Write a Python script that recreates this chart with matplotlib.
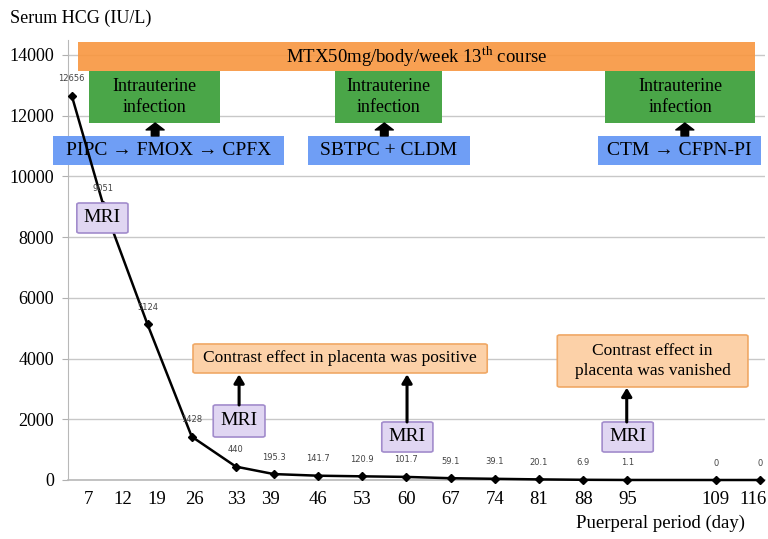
import matplotlib
matplotlib.use("Agg")
import matplotlib.pyplot as plt
from matplotlib.patches import Rectangle, FancyBboxPatch

plt.rcParams["mathtext.fontset"] = "custom"
plt.rcParams["mathtext.rm"] = "Liberation Serif"

# データ
days = [7, 12, 19, 26, 33, 39, 46, 53, 60, 67, 74, 81, 88, 95, 109, 116]
hcg = [12656, 9051, 5124, 1428, 440, 195.3, 141.7, 120.9, 101.7, 59.1,
       39.1, 20.1, 6.9, 1.1, 0, 0]
hcg_labels = ["12656", "9051", "5124", "1428", "440", "195.3", "141.7",
              "120.9", "101.7", "59.1", "39.1", "20.1", "6.9", "1.1", "0", "0"]
y_ticks = [0, 2000, 4000, 6000, 8000, 10000, 12000, 14000]
# 元図の目盛ラベルは左側でずれている (px)
label_shift = [17, 19, 9, 3, 1, -3, 0, 0, 0, 0, 0, 0, 0, 0, 0, -7]

# 注釈 (x0, x1, y0, y1, text)
mtx_bar = (8.0, 115.2, 13470, 14430, "MTX50mg/body/week 13$^{\\mathrm{th}}$ course")
infection_boxes = [(9.7, 30.5), (48.7, 65.6), (91.5, 115.2)]
infection_y = (11760, 13470)
antibiotic_boxes = [(4.0, 40.6, "PIPC → FMOX → CPFX"),
                    (44.4, 70.1, "SBTPC + CLDM"),
                    (90.3, 116.2, "CTM → CFPN-PI")]
antibiotic_y = (10376, 11332)
fat_arrow_x = [20.2, 56.5, 104.1]
mri_boxes = [(7.8, 15.9, 8136, 9124),
             (29.4, 37.6, 1416, 2471),
             (56.1, 64.2, 922, 1911),
             (91.0, 99.1, 922, 1911)]
contrast_boxes = [(26.2, 72.8, 3525, 4480, "Contrast effect in placenta was positive"),
                  (83.9, 114.1, 3064, 4777, "Contrast effect in\nplacenta was vanished")]
thin_arrows = [(33.5, 2471, 3480), (60.1, 1911, 3480), (94.9, 1911, 3040)]

SERIF = ["Liberation Serif", "DejaVu Serif"]
PX = 72 / 100  # px -> pt

fig = plt.figure(figsize=(7.68, 5.39), dpi=100)
ax = fig.add_axes([68 / 768, 1 - 480 / 539, (765 - 68) / 768, 440 / 539])
ax.set_xlim(6.4, 116.8)
ax.set_ylim(0, 14493)

ax.set_yticks(y_ticks)
ax.set_yticklabels([str(v) for v in y_ticks], fontfamily=SERIF, fontsize=13)
ax.set_xticks(days)
ax.set_xticklabels([])
for d, dx in zip(days, label_shift):
    ax.annotate(str(d), (d, 0), xytext=(dx * PX, -11 * PX), textcoords="offset points",
                ha="center", va="top", fontfamily=SERIF, fontsize=13.5,
                annotation_clip=False)
ax.tick_params(axis="y", length=4, color="#b0b0b0", pad=6)
ax.tick_params(axis="x", length=0)
ax.grid(axis="y", color="#c8c8c8", linewidth=1.0)
ax.set_axisbelow(True)
for s in ["top", "right"]:
    ax.spines[s].set_visible(False)
ax.spines["left"].set_color("#b8b8b8")
ax.spines["bottom"].set_color("#b8b8b8")
ax.spines["bottom"].set_linewidth(1.2)

# 折れ線
ax.plot(days, hcg, color="black", linewidth=1.8, marker="D", markersize=4.5,
        zorder=5, clip_on=False)
for d, v, lab in zip(days, hcg, hcg_labels):
    ax.annotate(lab, (d, v), xytext=(0, 9), textcoords="offset points",
                ha="center", va="bottom", fontsize=6, color="#444444", zorder=6)

# MTX バー
x0, x1, y0, y1, txt = mtx_bar
ax.add_patch(Rectangle((x0, y0), x1 - x0, y1 - y0, facecolor="#f8963f",
                       alpha=0.9, edgecolor="none", zorder=3, clip_on=False))
ax.text((x0 + x1) / 2, (y0 + y1) / 2, txt, ha="center", va="center",
        fontfamily=SERIF, fontsize=13.5, zorder=4)

# 子宮内感染
for x0, x1 in infection_boxes:
    y0, y1 = infection_y
    ax.add_patch(Rectangle((x0, y0), x1 - x0, y1 - y0, facecolor="#4aa648",
                           edgecolor="none", zorder=3, clip_on=False))
    ax.text((x0 + x1) / 2, (y0 + y1) / 2, "Intrauterine\ninfection",
            ha="center", va="center", fontfamily=SERIF, fontsize=13,
            linespacing=1.35, zorder=4)

# 抗菌薬
for x0, x1, txt in antibiotic_boxes:
    y0, y1 = antibiotic_y
    ax.add_patch(Rectangle((x0, y0), x1 - x0, y1 - y0, facecolor="#6f9ef5",
                           edgecolor="none", zorder=3, clip_on=False))
    ax.text((x0 + x1) / 2, (y0 + y1) / 2, txt, ha="center", va="center",
            fontfamily=SERIF, fontsize=14, zorder=4)

for x in fat_arrow_x:
    ax.annotate("", xy=(x, infection_y[0]), xytext=(x, antibiotic_y[1]),
                arrowprops=dict(arrowstyle="simple,head_length=0.5,head_width=1.3,tail_width=0.55",
                                color="black", shrinkA=0, shrinkB=0), zorder=4)

# MRI
for x0, x1, y0, y1 in mri_boxes:
    ax.add_patch(FancyBboxPatch((x0, y0), x1 - x0, y1 - y0,
                                boxstyle="round,pad=0,rounding_size=0.4",
                                facecolor="#e0d6f2", edgecolor="#a28ccc",
                                linewidth=1.2, zorder=6, mutation_aspect=120))
    ax.text((x0 + x1) / 2, (y0 + y1) / 2, "MRI", ha="center", va="center",
            fontfamily=SERIF, fontsize=14, zorder=7)

# 造影効果
for x0, x1, y0, y1, txt in contrast_boxes:
    ax.add_patch(FancyBboxPatch((x0, y0), x1 - x0, y1 - y0,
                                boxstyle="round,pad=0,rounding_size=0.4",
                                facecolor="#fcd1a8", edgecolor="#f0a865",
                                linewidth=1.2, zorder=6, mutation_aspect=120))
    ax.text((x0 + x1) / 2, (y0 + y1) / 2, txt, ha="center", va="center",
            fontfamily=SERIF, fontsize=12.5, linespacing=1.35, zorder=7)

for x, ys, ye in thin_arrows:
    ax.annotate("", xy=(x, ye), xytext=(x, ys),
                arrowprops=dict(arrowstyle="-|>,head_length=0.5,head_width=0.3",
                                color="black", linewidth=2.2, shrinkA=0, shrinkB=0),
                zorder=6)

fig.text(10 / 768, 1 - 18 / 539, "Serum HCG (IU/L)", ha="left", va="center",
         fontfamily=SERIF, fontsize=13)
fig.text(660 / 768, 1 - 523 / 539, "Puerperal period (day)", ha="center",
         va="center", fontfamily=SERIF, fontsize=13.5)

fig.savefig("out.png", dpi=100)
